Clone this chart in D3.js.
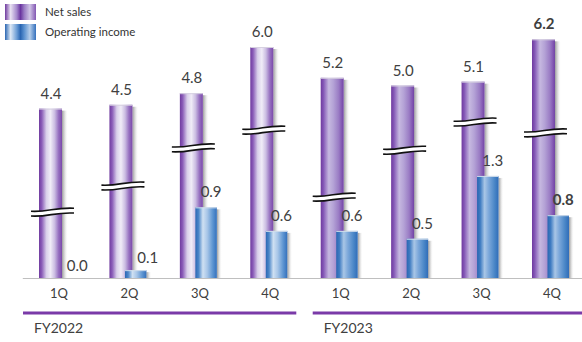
<!DOCTYPE html>
<html>
<head>
<meta charset="utf-8">
<script src="https://cdn.jsdelivr.net/npm/d3@7"></script>
<style>
  html, body { margin: 0; padding: 0; background: #fff; }
  svg { display: block; font-family: Lato, "Open Sans", sans-serif; }
</style>
</head>
<body>
<svg id="chart" width="582" height="342"></svg>
<script>
// Quarterly results, FY2022–FY2023 (billions)
const quarters = ["1Q", "2Q", "3Q", "4Q", "1Q", "2Q", "3Q", "4Q"];
const fiscalYears = ["FY2022", "FY2023"];
const quarterYear = ["FY2022", "FY2022", "FY2022", "FY2022", "FY2023", "FY2023", "FY2023", "FY2023"];
const netSales = [4.4, 4.5, 4.8, 6.0, 5.2, 5.0, 5.1, 6.2];
const operatingIncome = [0.0, 0.1, 0.9, 0.6, 0.6, 0.5, 1.3, 0.8];
const seriesNames = ["Net sales", "Operating income"];
const netSalesLabels = ["4.4", "4.5", "4.8", "6.0", "5.2", "5.0", "5.1", "6.2"];
const incomeLabels = ["0.0", "0.1", "0.9", "0.6", "0.6", "0.5", "1.3", "0.8"];
const boldLabel = [false, false, false, false, false, false, false, true];

// ---- layout ----
const W = 582, H = 342;
const baseY = 278;
const svg = d3.select("#chart");
const defs = svg.append("defs");

const idx = d3.range(quarters.length);
const x = d3.scaleBand().domain(idx).range([22.3, 585.7]).paddingInner(0.4746).paddingOuter(0.2373);
const bw = x.bandwidth();
const netW = 23, incW = 21.5, incOffset = bw - incW;

// two value axes: net sales is drawn on a broken axis
const yNet = d3.scaleLinear().domain([0, 7]).range([baseY, baseY - 7 * 38.5]);
const yInc = d3.scaleLinear().domain([0, 3]).range([baseY, baseY - 3 * 78.5]);

// where the wavy axis-break sits on each net sales bar (net sales units)
const breakAt = [1.71, 2.39, 3.38, 3.84, 2.10, 3.32, 4.05, 3.77];

// ---- gradients ----
function hGrad(id, stops) {
  const g = defs.append("linearGradient").attr("id", id)
    .attr("x1", 0).attr("x2", 1).attr("y1", 0).attr("y2", 0);
  stops.forEach(([o, c]) => g.append("stop").attr("offset", o).attr("stop-color", c));
}
hGrad("net22", [[0, "#6f3a9f"], [0.12, "#8a5cb8"], [0.32, "#d9cfea"], [0.5, "#f0ecf7"], [0.68, "#cbbde2"], [0.85, "#9670c0"], [1, "#7a48aa"]]);
hGrad("net23", [[0, "#6f3a9f"], [0.12, "#8458b6"], [0.35, "#c6b8e0"], [0.55, "#b4a2d6"], [0.78, "#9a7cc4"], [0.92, "#8256b2"], [1, "#7044a4"]]);
hGrad("inc22", [[0, "#2b68b4"], [0.15, "#4b86c8"], [0.35, "#cfe0f2"], [0.55, "#a8c6e8"], [0.8, "#5f96d2"], [1, "#3470bc"]]);
hGrad("inc23", [[0, "#2a66b2"], [0.15, "#3f7cc2"], [0.35, "#a9c6e6"], [0.55, "#7ba7da"], [0.8, "#4c88c8"], [1, "#2f6cb8"]]);
hGrad("shade", [[0, "#8f8f8f"], [0.45, "#c4c4c4"], [1, "#ffffff"]]);
d3.select("#shade").selectAll("stop").attr("stop-opacity", (d, i) => [0.9, 0.6, 0][i]);
hGrad("legNet", [[0, "#6f3a9f"], [0.18, "#e8e1f2"], [0.38, "#a488cc"], [0.5, "#6a35a0"], [0.62, "#9a7cc4"], [0.8, "#d0c4e6"], [1, "#8256b2"]]);
hGrad("legInc", [[0, "#2a66b2"], [0.18, "#dce8f5"], [0.38, "#6d9ed6"], [0.5, "#2a66b2"], [0.62, "#5b92d0"], [0.8, "#b4cdea"], [1, "#3470bc"]]);

// ---- baseline axis with quarter labels ----
const axis = d3.axisBottom(x).tickSize(0).tickSizeOuter(0).tickPadding(11)
  .tickFormat(i => quarters[i]);
const gAxis = svg.append("g").attr("transform", `translate(0,${baseY})`).call(axis);
gAxis.select(".domain").attr("stroke", "#bfbfbf").attr("stroke-width", 1);
gAxis.selectAll("text").attr("font-size", 13).attr("fill", "#404040")
  .attr("font-family", "Lato, 'Open Sans', sans-serif").attr("dx", 1.5);

// ---- net sales bars ----
const gNet = svg.append("g");
idx.forEach(i => {
  const x0 = x(i), top = yNet(netSales[i]);
  gNet.append("rect").attr("x", x0 + netW).attr("y", top + 2)
    .attr("width", 6).attr("height", baseY - top - 2).attr("fill", "url(#shade)");
  gNet.append("rect").attr("x", x0).attr("y", top)
    .attr("width", netW).attr("height", baseY - top)
    .attr("fill", quarterYear[i] === "FY2022" ? "url(#net22)" : "url(#net23)");
  gNet.append("line").attr("x1", x0).attr("x2", x0 + netW).attr("y1", top + 0.5).attr("y2", top + 0.5)
    .attr("stroke", "#d6d0e0").attr("stroke-width", 1);
});

// ---- axis-break marks across the net sales bars ----
const gBreak = svg.append("g");
idx.forEach(i => {
  const y = yNet(breakAt[i]);
  const x0 = x(i) - 8, x1 = x(i) + 35, w = x1 - x0;
  const wave = dy => `M${x0},${y + 1.5 + dy} C${x0 + w * 0.4},${y + 2.5 + dy} ${x0 + w * 0.55},${y - 2.5 + dy} ${x1},${y - 1.5 + dy}`;
  const back = dy => `L${x1},${y - 1.5 + dy} C${x0 + w * 0.55},${y - 2.5 + dy} ${x0 + w * 0.4},${y + 2.5 + dy} ${x0},${y + 1.5 + dy}`;
  gBreak.append("path").attr("d", wave(-2.4) + back(2.4).replace(/^L/, "L") + "Z")
    .attr("fill", "#fff").attr("stroke", "none");
  [-2.4, 2.4].forEach(dy => gBreak.append("path").attr("d", wave(dy))
    .attr("fill", "none").attr("stroke", "#111").attr("stroke-width", 1.6));
});

// ---- operating income bars ----
const gInc = svg.append("g");
idx.forEach(i => {
  const x0 = x(i) + incOffset, top = yInc(operatingIncome[i]);
  if (baseY - top <= 0) return;
  gInc.append("rect").attr("x", x0 + incW).attr("y", top + 2)
    .attr("width", 5).attr("height", Math.max(0, baseY - top - 2)).attr("fill", "url(#shade)");
  gInc.append("rect").attr("x", x0).attr("y", top)
    .attr("width", incW).attr("height", baseY - top)
    .attr("fill", quarterYear[i] === "FY2022" ? "url(#inc22)" : "url(#inc23)");
  gInc.append("line").attr("x1", x0).attr("x2", x0 + incW).attr("y1", top + 0.5).attr("y2", top + 0.5)
    .attr("stroke", "#d0dcea").attr("stroke-width", 1);
});

// ---- value labels ----
const gLab = svg.append("g").attr("fill", "#404040").attr("font-size", 15).attr("text-anchor", "middle");
idx.forEach(i => {
  gLab.append("text").attr("x", x(i) + netW / 2 + 0.5).attr("y", yNet(netSales[i]) - 10)
    .attr("font-weight", boldLabel[i] ? 700 : 400).text(netSalesLabels[i]);
  const cx = x(i) + incOffset + incW / 2;
  const short = baseY - yInc(operatingIncome[i]) < 20;
  gLab.append("text").attr("x", cx + (short ? 12 : 5)).attr("y", yInc(operatingIncome[i]) - (short ? 7 : 10))
    .attr("font-weight", boldLabel[i] ? 700 : 400).text(incomeLabels[i]);
});

// ---- fiscal-year brackets ----
const gFy = svg.append("g");
fiscalYears.forEach((fy, k) => {
  const members = idx.filter(i => quarterYear[i] === fy);
  const first = members[0], last = members[members.length - 1];
  const xa = x(first) - (k === 0 ? 16 : 8);
  const xb = k === fiscalYears.length - 1 ? W : x(last) + bw + 9;
  gFy.append("line").attr("x1", xa).attr("x2", xb).attr("y1", 313).attr("y2", 313)
    .attr("stroke", "#7a3aa8").attr("stroke-width", 3);
  gFy.append("text").attr("x", xa + 11).attr("y", 333).attr("font-size", 14)
    .attr("fill", "#404040").text(fy);
});

// ---- legend ----
const gLeg = svg.append("g");
[["url(#legNet)", 4], ["url(#legInc)", 24]].forEach(([fill, y], k) => {
  gLeg.append("rect").attr("x", 5).attr("y", y).attr("width", 31).attr("height", 16).attr("fill", fill);
  gLeg.append("text").attr("x", 45).attr("y", y + 12).attr("font-size", 11.5)
    .attr("fill", "#333").text(seriesNames[k]);
});
</script>
</body>
</html>
